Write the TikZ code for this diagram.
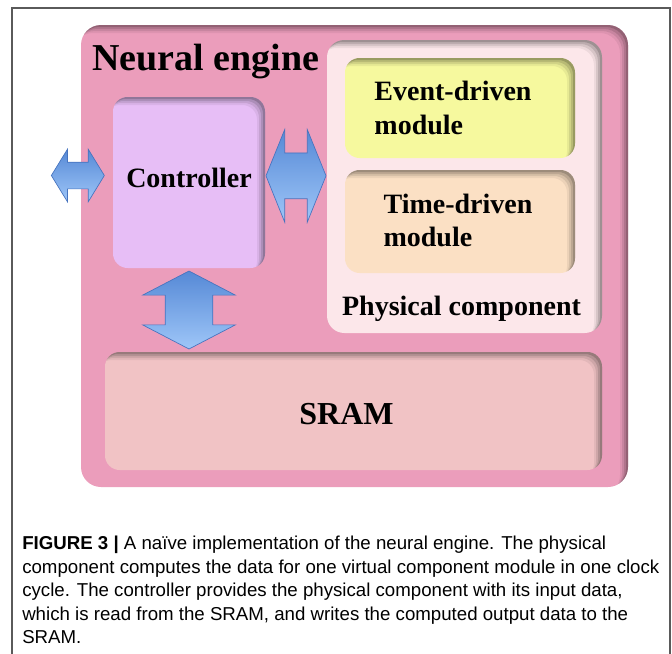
\documentclass[tikz,border=0pt]{standalone}
\usepackage{fontspec}
\setmainfont{Liberation Serif}
\newfontfamily\capfont{Liberation Sans}
\usetikzlibrary{shapes.arrows, calc}

\definecolor{enginepink}{RGB}{235,157,187}
\definecolor{physpink}{RGB}{252,231,234}
\definecolor{eventyellow}{RGB}{246,249,158}
\definecolor{timepeach}{RGB}{251,224,196}
\definecolor{ctrllilac}{RGB}{231,190,246}
\definecolor{srampink}{RGB}{241,195,197}
\definecolor{arrowdark}{RGB}{86,137,214}
\definecolor{arrowlight}{RGB}{158,198,248}
\definecolor{arrowedge}{RGB}{70,115,190}
\definecolor{framegray}{RGB}{90,90,90}

\tikzset{
  panel/.style={rectangle, rounded corners=#1, inner sep=0pt,
    path picture={
      \foreach \d/\o in {1.5/0.16, 3/0.12, 4.5/0.09, 6/0.06}
        \fill[black, opacity=\o, even odd rule, rounded corners=#1]
          ([shift={(-20pt,-20pt)}]path picture bounding box.south west) rectangle ([shift={(20pt,20pt)}]path picture bounding box.north east)
          ([shift={(-\d pt,-\d pt)}]path picture bounding box.south west) rectangle ([shift={(-\d pt,-\d pt)}]path picture bounding box.north east);
    }},
  panel/.default=11pt,
  flow/.style={double arrow, inner xsep=0pt, draw=arrowedge, line width=0.5pt,
    top color=arrowdark, bottom color=arrowlight},
  boxtext/.style={font=\fontsize{21}{25}\selectfont\bfseries, align=left, inner sep=0pt},
}

\begin{document}
\begin{tikzpicture}[x=0.75pt, y=-0.75pt]
  \useasboundingbox (0,0) rectangle (672,654);

  % frame
  \draw[framegray, line width=1.1pt] (12,654) -- (12,8) -- (670,8) -- (670,654);

  % boxes
  \node[panel=15pt, fill=enginepink, minimum width=410.25pt, minimum height=346.5pt] (engine) at (354.5,256) {};
  \node[panel=13pt, fill=physpink, minimum width=206.25pt, minimum height=219.75pt] (phys) at (464.5,186.5) {};
  \node[panel, fill=eventyellow, minimum width=172.5pt, minimum height=75pt] (event) at (460,108) {};
  \node[panel, fill=timepeach, minimum width=172.5pt, minimum height=77.25pt] (time) at (460,221.5) {};
  \node[panel, fill=ctrllilac, minimum width=114pt, minimum height=128.25pt] (ctrl) at (189,182.5) {};
  \node[panel, fill=srampink, minimum width=372.75pt, minimum height=88.5pt] (sram) at (353.5,411) {};

  % labels
  \node[anchor=base west, inner sep=0pt, font=\fontsize{28.5}{30}\selectfont\bfseries] (enginetxt) at (92,70) {Neural engine};
  \node[boxtext] (eventtxt) at ([xshift=-5.25pt]event.center) {Event-driven\\module};
  \node[boxtext] (timetxt) at ([xshift=-1.5pt,yshift=0.75pt]time.center) {Time-driven\\module};
  \node[boxtext] (ctrltxt) at ([yshift=3.75pt]ctrl.center) {Controller};
  \node[boxtext, anchor=base] (phystxt) at ([xshift=-2.25pt,yshift=13.5pt]phys.south) {Physical component};
  \node[boxtext, font=\fontsize{24}{28}\selectfont\bfseries] (sramtxt) at ([xshift=-5.25pt,yshift=-2.25pt]sram.center) {SRAM};

  % data paths
  \node[flow, anchor=east, minimum height=39.75pt, inner ysep=9.75pt,
        double arrow head extend=9.75pt, double arrow tip angle=117] (io)
        at ([xshift=-6pt,yshift=5.25pt]ctrl.west) {};
  \node[flow, minimum height=45pt, inner ysep=16.9pt,
        double arrow head extend=17.6pt, double arrow tip angle=136] (ctrlphys)
        at ([yshift=5pt]$(ctrl.east)!0.5!(phys.west |- ctrl.east)$) {};
  \node[flow, rotate=90, minimum height=58.5pt, inner ysep=17.6pt,
        double arrow head extend=16.9pt, double arrow tip angle=125] (ctrlsram)
        at ($(ctrl.south)!0.5!(ctrl.south |- sram.north)$) {};

  % caption
  \node[anchor=north west, inner sep=0pt, align=left, font=\capfont\fontsize{14}{17.6}\selectfont] (caption) at (22,536)
    {\textbf{FIGURE 3 |} A naïve implementation of the neural engine. The physical\\
     component computes the data for one virtual component module in one clock\\
     cycle. The controller provides the physical component with its input data,\\
     which is read from the SRAM, and writes the computed output data to the\\
     SRAM.};
\end{tikzpicture}
\end{document}
